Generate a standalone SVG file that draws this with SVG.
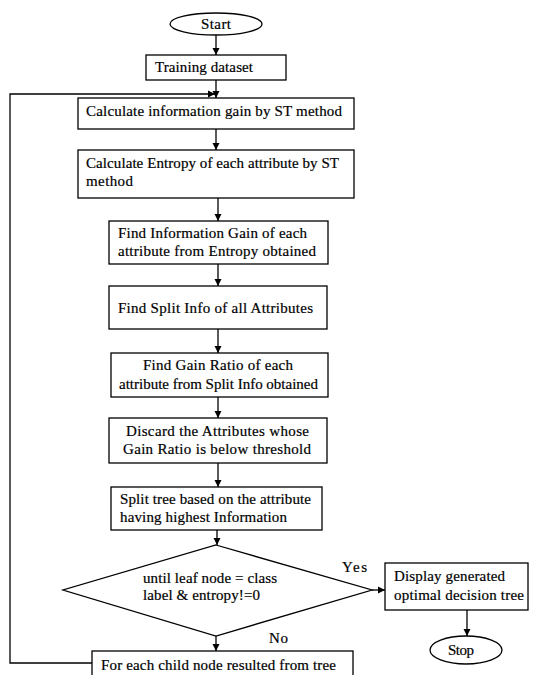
<svg xmlns="http://www.w3.org/2000/svg" width="537" height="675" viewBox="0 0 537 675">
<style>
.b{fill:#fff;stroke:#000;stroke-width:1.3}
.t{font-family:"Liberation Serif","Times New Roman",serif;font-size:15px;fill:#000;stroke:#000;stroke-width:0.2}
.c{fill:none;stroke:#000;stroke-width:1.3}
</style>
<defs>
<marker id="a" markerWidth="8" markerHeight="8" refX="7" refY="4" orient="auto" markerUnits="userSpaceOnUse">
<path d="M0,0.5 L7,4 L0,7.5 Z" fill="#000"/>
</marker>
</defs>
<rect width="537" height="675" fill="#fff"/>
<g id="connectors">
<line class="c" x1="216" y1="35" x2="216" y2="55" marker-end="url(#a)"/>
<line class="c" x1="216" y1="80" x2="216" y2="98" marker-end="url(#a)"/>
<polyline class="c" points="92,663 10,663 10,94 215,94" marker-end="url(#a)"/>
<line class="c" x1="216" y1="129" x2="216" y2="150" marker-end="url(#a)"/>
<line class="c" x1="218" y1="198" x2="218" y2="221" marker-end="url(#a)"/>
<line class="c" x1="218" y1="264" x2="218" y2="286" marker-end="url(#a)"/>
<line class="c" x1="218" y1="329" x2="218" y2="353" marker-end="url(#a)"/>
<line class="c" x1="218" y1="397" x2="218" y2="418" marker-end="url(#a)"/>
<line class="c" x1="218" y1="463" x2="218" y2="487" marker-end="url(#a)"/>
<line class="c" x1="217" y1="530" x2="217" y2="545" marker-end="url(#a)"/>
<line class="c" x1="372" y1="590" x2="385" y2="590" marker-end="url(#a)"/>
<line class="c" x1="216" y1="636" x2="216" y2="651" marker-end="url(#a)"/>
<line class="c" x1="467" y1="610" x2="467" y2="636" marker-end="url(#a)"/>
<text class="t" x="342" y="572" textLength="25">Yes</text>
<text class="t" x="269" y="643" textLength="19">No</text>
</g>
<g id="start">
<ellipse class="b" cx="216" cy="24" rx="46" ry="11"/>
<text class="t" x="201" y="29" textLength="30">Start</text>
</g>
<g id="training">
<rect class="b" x="146" y="55" width="140" height="25"/>
<text class="t" x="155" y="72" textLength="98">Training dataset</text>
</g>
<g id="calc-gain">
<rect class="b" x="78" y="98" width="276" height="31"/>
<text class="t" x="86" y="116" textLength="256">Calculate information gain by ST method</text>
</g>
<g id="calc-entropy">
<rect class="b" x="78" y="150" width="276" height="48"/>
<text class="t" x="86" y="168" textLength="253">Calculate Entropy of each attribute by ST</text>
<text class="t" x="86" y="186" textLength="47">method</text>
</g>
<g id="find-gain">
<rect class="b" x="109" y="221" width="219" height="43"/>
<text class="t" x="118" y="238" textLength="189">Find Information Gain of each</text>
<text class="t" x="118" y="256" textLength="198">attribute from Entropy obtained</text>
</g>
<g id="split-info">
<rect class="b" x="109" y="286" width="218" height="43"/>
<text class="t" x="118" y="313" textLength="195">Find Split Info of all Attributes</text>
</g>
<g id="gain-ratio">
<rect class="b" x="111" y="353" width="217" height="44"/>
<text class="t" x="143" y="370" textLength="150">Find Gain Ratio of each</text>
<text class="t" x="119" y="389" textLength="199">attribute from Split Info obtained</text>
</g>
<g id="discard">
<rect class="b" x="109" y="418" width="218" height="45"/>
<text class="t" x="126" y="436" textLength="183">Discard the Attributes whose</text>
<text class="t" x="123" y="454" textLength="188">Gain Ratio is below threshold</text>
</g>
<g id="split-tree">
<rect class="b" x="111" y="487" width="211" height="43"/>
<text class="t" x="120" y="504" textLength="191">Split tree based on the attribute</text>
<text class="t" x="120" y="522" textLength="167">having highest Information</text>
</g>
<g id="decision">
<polygon class="b" points="216,545 372,590 216,636 63,590"/>
<text class="t" x="143" y="583" textLength="134">until leaf node = class</text>
<text class="t" x="143" y="600" textLength="117">label &amp; entropy!=0</text>
</g>
<g id="display">
<rect class="b" x="385" y="563" width="143" height="47"/>
<text class="t" x="394" y="581" textLength="111">Display generated</text>
<text class="t" x="394" y="600" textLength="130">optimal decision tree</text>
</g>
<g id="stop">
<ellipse class="b" cx="466" cy="650" rx="36" ry="14"/>
<text class="t" x="448" y="655" textLength="26">Stop</text>
</g>
<g id="child">
<rect class="b" x="92" y="651" width="261" height="30"/>
<text class="t" x="101" y="670" textLength="235">For each child node resulted from tree</text>
</g>
</svg>
